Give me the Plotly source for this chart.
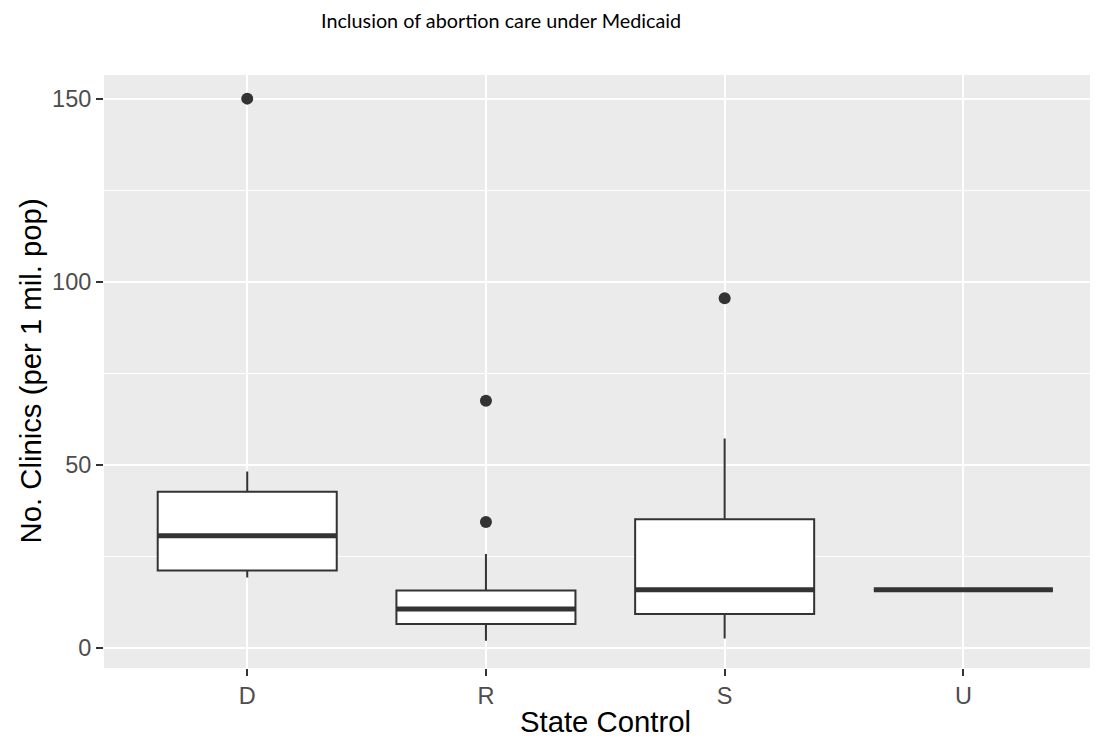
import plotly.graph_objects as go

# Data
categories = ["D", "R", "S", "U"]
q1 = [21.2, 6.6, 9.3, 15.9]
median = [30.7, 10.7, 15.9, 15.9]
q3 = [42.7, 15.7, 35.2, 15.9]
lower_whisker = [19.3, 2.0, 2.6, 15.9]
upper_whisker = [48.2, 25.7, 57.2, 15.9]
outlier_cat = ["D", "R", "R", "S"]
outlier_val = [150.0, 67.5, 34.4, 95.5]

# page body has an 8px margin; figure is offset so it lines up with the page
OFF = 8
W, H = 1098 - OFF, 742 - OFF
ML, MR, MT, MB = 104 - OFF, 0, 75 - OFF, 74
DARK = "#333333"
BOX_W = 0.75

pos = {c: i + 1 for i, c in enumerate(categories)}

fig = go.Figure()

for i, c in enumerate(categories):
    fig.add_trace(go.Box(
        x=[pos[c]], q1=[q1[i]], median=[median[i]], q3=[q3[i]],
        lowerfence=[lower_whisker[i]], upperfence=[upper_whisker[i]],
        width=BOX_W, whiskerwidth=0, fillcolor="white",
        line=dict(color=DARK, width=2), boxpoints=False,
        showlegend=False, hoverinfo="skip",
    ))

# thick median lines (ggplot style)
mx, my = [], []
for i, c in enumerate(categories):
    mx += [pos[c] - BOX_W / 2, pos[c] + BOX_W / 2, None]
    my += [median[i], median[i], None]
fig.add_trace(go.Scatter(x=mx, y=my, mode="lines",
                         line=dict(color=DARK, width=5),
                         showlegend=False, hoverinfo="skip"))

fig.add_trace(go.Scatter(
    x=[pos[c] for c in outlier_cat], y=outlier_val, mode="markers",
    marker=dict(color=DARK, size=12), showlegend=False, hoverinfo="skip"))

tickfont = dict(family="Liberation Sans, Arial, sans-serif", size=23.5, color="#4D4D4D")
fig.update_xaxes(
    range=[0.4, 4.564], tickmode="array", tickvals=[1, 2, 3, 4], ticktext=categories,
    showgrid=True, gridcolor="white", gridwidth=2.1, zeroline=False,
    ticks="outside", ticklen=7, tickwidth=2, tickcolor=DARK,
    tickfont=tickfont, showline=False,
)
fig.update_yaxes(
    range=[-5.43, 156.45], tickmode="array", tickvals=[0, 50, 100, 150],
    showgrid=True, gridcolor="white", gridwidth=2.1, zeroline=False,
    minor=dict(tickmode="array", tickvals=[25, 75, 125], showgrid=True,
               gridcolor="white", gridwidth=1, ticks=""),
    ticks="outside", ticklen=7, tickwidth=2, tickcolor=DARK,
    tickfont=tickfont, showline=False,
)

pw = W - ML - MR
ph = H - MT - MB
# convert page pixel positions (reference coordinates) to paper coordinates
def px_x(p):
    return (p - OFF - ML) / pw
def px_y(p):
    return (H - MB - (p - OFF)) / ph

titlefont = dict(family="Liberation Sans, Arial, sans-serif", size=29.3, color="black")
fig.add_annotation(text="State Control", xref="paper", yref="paper",
                   x=px_x(605), y=px_y(721), xanchor="center", yanchor="middle",
                   showarrow=False, font=titlefont)
fig.add_annotation(text="No. Clinics (per 1 mil. pop)", xref="paper", yref="paper",
                   x=px_x(30), y=px_y(371.5), xanchor="center", yanchor="middle",
                   textangle=-90, showarrow=False, font=titlefont)
fig.add_annotation(text="Inclusion of abortion care under Medicaid", xref="paper", yref="paper",
                   x=px_x(501), y=px_y(20), xanchor="center", yanchor="middle",
                   showarrow=False, font=dict(family="Lato, sans-serif", size=19.8, color="black"))

fig.update_layout(
    width=W, height=H, margin=dict(l=ML, r=MR, t=MT, b=MB, pad=0),
    plot_bgcolor="#EBEBEB", paper_bgcolor="white",
)

fig.write_html("out.html")
